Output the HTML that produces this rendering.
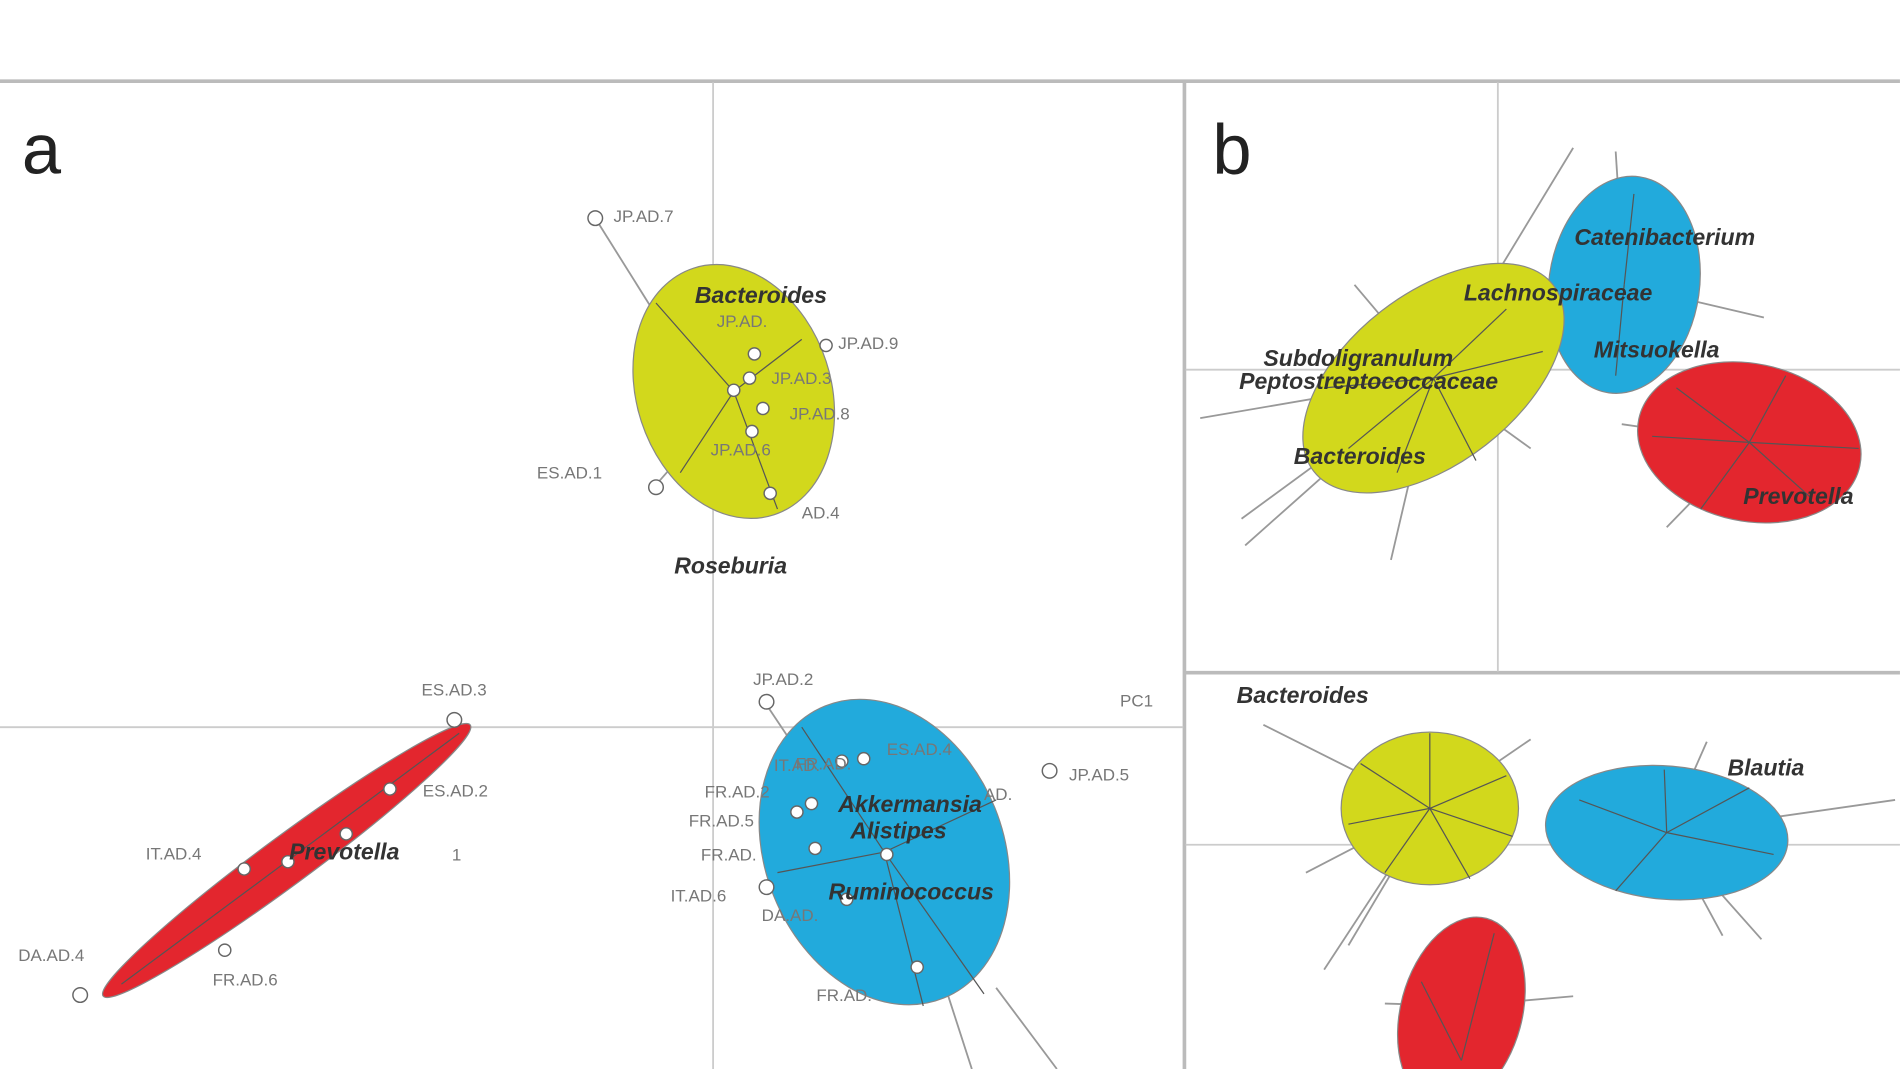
<!DOCTYPE html>
<html><head><meta charset="utf-8"><style>
html,body{margin:0;padding:0;background:#fff;width:1900px;height:1069px;overflow:hidden}
svg{display:block}
text{font-family:"Liberation Sans",sans-serif}
.l{font-size:14px;fill:#777}
.b{font-size:19px;font-weight:bold;font-style:italic;fill:#333}
.g{stroke:#ccc;stroke-width:1.5}
.s{stroke:#555;stroke-width:1}
.r{stroke:#999;stroke-width:1.5}
.p{fill:#fff;stroke:#666;stroke-width:1.2}
</style></head><body>
<svg width="1900" height="1069" viewBox="0 0 1900 1069">
<g transform="scale(1.2148,1.2120)">
<!-- frame -->
<line x1="0" y1="67" x2="1564" y2="67" stroke="#bbb" stroke-width="3"/>
<line x1="975" y1="67" x2="975" y2="882" stroke="#bbb" stroke-width="3"/>
<line x1="975" y1="555" x2="1564" y2="555" stroke="#bbb" stroke-width="3"/>
<!-- grids -->
<line class="g" x1="587" y1="68" x2="587" y2="882"/>
<line class="g" x1="0" y1="600" x2="974" y2="600"/>
<line class="g" x1="1233" y1="68" x2="1233" y2="554"/>
<line class="g" x1="976" y1="305" x2="1564" y2="305"/>
<line class="g" x1="976" y1="697" x2="1564" y2="697"/>
<text x="18" y="143" font-size="58" fill="#222">a</text>
<text x="998" y="143" font-size="58" fill="#222">b</text>

<!-- panel a yellow -->
<line class="r" x1="490" y1="180" x2="540" y2="260"/>
<line class="r" x1="540" y1="400" x2="575" y2="360"/>
<ellipse cx="604" cy="323" rx="80" ry="107" transform="rotate(-18 604 323)" fill="#d2d81c" stroke="#888"/>
<line class="s" x1="604" y1="323" x2="540" y2="250"/><line class="s" x1="604" y1="323" x2="560" y2="390"/>
<line class="s" x1="604" y1="323" x2="640" y2="420"/><line class="s" x1="604" y1="323" x2="660" y2="280"/>
<circle class="p" cx="621" cy="292" r="5"/><circle class="p" cx="617" cy="312" r="5"/><circle class="p" cx="604" cy="322" r="5"/>
<circle class="p" cx="628" cy="337" r="5"/><circle class="p" cx="619" cy="356" r="5"/><circle class="p" cx="634" cy="407" r="5"/>
<circle class="p" cx="490" cy="180" r="6"/><circle class="p" cx="540" cy="402" r="6"/><circle class="p" cx="680" cy="285" r="5"/>
<text class="l" x="505" y="183">JP.AD.7</text><text class="l" x="590" y="270">JP.AD.</text>
<text class="l" x="690" y="288">JP.AD.9</text><text class="l" x="635" y="317">JP.AD.3</text>
<text class="l" x="650" y="346">JP.AD.8</text><text class="l" x="585" y="376">JP.AD.6</text>
<text class="l" x="442" y="395">ES.AD.1</text><text class="l" x="660" y="428">AD.4</text>
<text class="b" x="572" y="250">Bacteroides</text>
<text class="b" x="555" y="473">Roseburia</text>

<!-- panel a red -->
<ellipse cx="236" cy="710" rx="188" ry="20" transform="rotate(-36.5 236 710)" fill="#e3262e" stroke="#888"/>
<line class="s" x1="100" y1="812" x2="378" y2="605"/>
<circle class="p" cx="374" cy="594" r="6"/><circle class="p" cx="321" cy="651" r="5"/><circle class="p" cx="285" cy="688" r="5"/>
<circle class="p" cx="237" cy="711" r="5"/><circle class="p" cx="201" cy="717" r="5"/><circle class="p" cx="185" cy="784" r="5"/><circle class="p" cx="66" cy="821" r="6"/>
<text class="l" x="347" y="574">ES.AD.3</text><text class="l" x="348" y="657">ES.AD.2</text>
<text class="l" x="120" y="709">IT.AD.4</text><text class="l" x="15" y="793">DA.AD.4</text><text class="l" x="175" y="813">FR.AD.6</text>
<text class="b" x="238" y="709">Prevotella</text><text class="l" x="372" y="710">1</text>

<!-- panel a blue -->
<line class="r" x1="780" y1="820" x2="800" y2="882"/><line class="r" x1="820" y1="815" x2="870" y2="882"/>
<line class="r" x1="630" y1="580" x2="650" y2="610"/>
<ellipse cx="728" cy="703" rx="98" ry="130" transform="rotate(-22 728 703)" fill="#22aadc" stroke="#888"/>
<line class="s" x1="728" y1="703" x2="660" y2="600"/><line class="s" x1="728" y1="703" x2="810" y2="820"/>
<line class="s" x1="728" y1="703" x2="640" y2="720"/><line class="s" x1="728" y1="703" x2="820" y2="660"/>
<line class="s" x1="728" y1="703" x2="760" y2="830"/>
<circle class="p" cx="693" cy="628" r="5"/><circle class="p" cx="711" cy="626" r="5"/><circle class="p" cx="668" cy="663" r="5"/>
<circle class="p" cx="656" cy="670" r="5"/><circle class="p" cx="671" cy="700" r="5"/><circle class="p" cx="730" cy="705" r="5"/>
<circle class="p" cx="697" cy="742" r="5"/><circle class="p" cx="755" cy="798" r="5"/><circle class="p" cx="631" cy="579" r="6"/>
<circle class="p" cx="631" cy="732" r="6"/><circle class="p" cx="864" cy="636" r="6"/>
<text class="l" x="620" y="565">JP.AD.2</text><text class="l" x="655" y="635">FR.AD.</text><text class="l" x="730" y="623">ES.AD.4</text>
<text class="l" x="637" y="636">IT.AD.</text><text class="l" x="580" y="658">FR.AD.2</text><text class="l" x="567" y="682">FR.AD.5</text>
<text class="l" x="577" y="710">FR.AD.</text><text class="l" x="552" y="744">IT.AD.6</text><text class="l" x="627" y="760">DA.AD.</text>
<text class="l" x="672" y="826">FR.AD.</text><text class="l" x="880" y="644">JP.AD.5</text><text class="l" x="810" y="660">AD.</text>
<text class="l" x="922" y="583">PC1</text>
<text class="b" x="690" y="670">Akkermansia</text><text class="b" x="700" y="692">Alistipes</text>
<text class="b" x="682" y="742">Ruminococcus</text>

<!-- panel b top -->
<g class="r">
<line x1="1180" y1="312" x2="1295" y2="122"/><line x1="1180" y1="312" x2="1115" y2="235"/>
<line x1="1180" y1="312" x2="988" y2="345"/><line x1="1180" y1="312" x2="1022" y2="428"/>
<line x1="1180" y1="312" x2="1025" y2="450"/><line x1="1180" y1="312" x2="1145" y2="462"/>
<line x1="1180" y1="312" x2="1260" y2="370"/><line x1="1337" y1="235" x2="1330" y2="125"/>
<line x1="1337" y1="235" x2="1452" y2="262"/><line x1="1440" y1="365" x2="1372" y2="435"/>
<line x1="1440" y1="365" x2="1335" y2="350"/>
</g>
<ellipse cx="1337" cy="235" rx="62" ry="90" transform="rotate(8 1337 235)" fill="#22aadc" stroke="#888"/>
<ellipse cx="1180" cy="312" rx="125" ry="70" transform="rotate(-38 1180 312)" fill="#d2d81c" stroke="#888"/>
<ellipse cx="1440" cy="365" rx="93" ry="65" transform="rotate(12 1440 365)" fill="#e3262e" stroke="#888"/>
<g class="s">
<line x1="1180" y1="312" x2="1110" y2="370"/><line x1="1180" y1="312" x2="1240" y2="255"/><line x1="1180" y1="312" x2="1150" y2="390"/>
<line x1="1180" y1="312" x2="1215" y2="380"/><line x1="1180" y1="312" x2="1090" y2="320"/><line x1="1180" y1="312" x2="1270" y2="290"/>
<line x1="1440" y1="365" x2="1380" y2="320"/><line x1="1440" y1="365" x2="1400" y2="420"/><line x1="1440" y1="365" x2="1490" y2="410"/>
<line x1="1440" y1="365" x2="1530" y2="370"/><line x1="1440" y1="365" x2="1360" y2="360"/><line x1="1440" y1="365" x2="1470" y2="310"/>
<line x1="1337" y1="235" x2="1345" y2="160"/><line x1="1337" y1="235" x2="1330" y2="310"/>
</g>
<text class="b" x="1296" y="202" fill="#333">Catenibacterium</text>
<text class="b" x="1205" y="248">Lachnospiraceae</text>
<text class="b" x="1312" y="295">Mitsuokella</text>
<text class="b" x="1040" y="302">Subdoligranulum</text>
<text class="b" x="1020" y="321">Peptostreptococcaceae</text>
<text class="b" x="1065" y="383">Bacteroides</text>
<text class="b" x="1435" y="416">Prevotella</text>

<!-- panel b bottom -->
<g class="r">
<line x1="1177" y1="667" x2="1040" y2="598"/><line x1="1177" y1="667" x2="1090" y2="800"/>
<line x1="1177" y1="667" x2="1110" y2="780"/><line x1="1177" y1="667" x2="1075" y2="720"/>
<line x1="1177" y1="667" x2="1260" y2="610"/><line x1="1372" y1="687" x2="1560" y2="660"/>
<line x1="1372" y1="687" x2="1450" y2="775"/><line x1="1372" y1="687" x2="1405" y2="612"/>
<line x1="1372" y1="687" x2="1418" y2="772"/><line x1="1203" y1="830" x2="1295" y2="822"/><line x1="1203" y1="830" x2="1140" y2="828"/>
</g>
<ellipse cx="1177" cy="667" rx="73" ry="63" fill="#d2d81c" stroke="#888"/>
<ellipse cx="1372" cy="687" rx="100" ry="55" transform="rotate(5 1372 687)" fill="#22aadc" stroke="#888"/>
<ellipse cx="1203" cy="835" rx="50" ry="80" transform="rotate(15 1203 835)" fill="#e3262e" stroke="#888"/>
<g class="s">
<line x1="1177" y1="667" x2="1177" y2="605"/><line x1="1177" y1="667" x2="1240" y2="640"/><line x1="1177" y1="667" x2="1120" y2="630"/>
<line x1="1177" y1="667" x2="1110" y2="680"/><line x1="1177" y1="667" x2="1140" y2="720"/><line x1="1177" y1="667" x2="1210" y2="725"/>
<line x1="1177" y1="667" x2="1245" y2="690"/><line x1="1372" y1="687" x2="1300" y2="660"/><line x1="1372" y1="687" x2="1440" y2="650"/>
<line x1="1372" y1="687" x2="1330" y2="735"/><line x1="1372" y1="687" x2="1460" y2="705"/><line x1="1372" y1="687" x2="1370" y2="635"/>
<line x1="1203" y1="875" x2="1230" y2="770"/><line x1="1203" y1="875" x2="1170" y2="810"/>
</g>
<text class="b" x="1018" y="580">Bacteroides</text>
<text class="b" x="1422" y="640">Blautia</text>
</g>
</svg>
</body></html>
